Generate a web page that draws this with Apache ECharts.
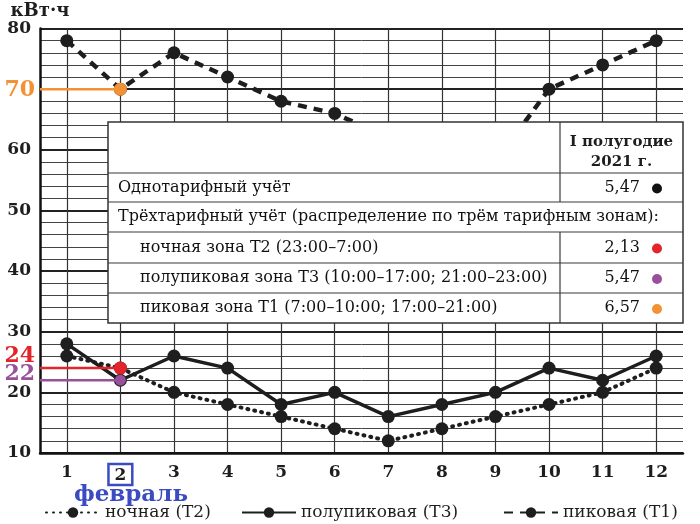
<!DOCTYPE html>
<html>
<head>
<meta charset="utf-8">
<script src="https://cdn.jsdelivr.net/npm/echarts@6/dist/echarts.min.js"></script>
<style>
html,body{margin:0;padding:0;background:#fff}
#chart{width:700px;height:524px}
</style>
</head>
<body>
<div id="chart"></div>
<script>
var months = [1,2,3,4,5,6,7,8,9,10,11,12];
var nightT2 = [26,24,20,18,16,14,12,14,16,18,20,24];
var halfPeakT3 = [28,22,26,24,18,20,16,18,20,24,22,26];
var peakT1 = [78,70,76,72,68,66,62,60,58,70,74,78];
var seriesNames = ['ночная (Т2)', 'полупиковая (Т3)', 'пиковая (Т1)'];
var unitName = 'кВт·ч';
var febLabel = 'февраль';
// значения за февраль, выделенные цветом
var febValues = [70, 24, 22];
var febColors = ['#f39234', '#e3242b', '#98509c'];
var febDotSize = [13, 13, 11];
var febLabelShift = [1, -12, -6];
// таблица тарифов
var tableHead = ['I полугодие', '2021 г.'];
var tableRows = ['Однотарифный учёт', 'Трёхтарифный учёт (распределение по трём тарифным зонам):', 'ночная зона Т2 (23:00–7:00)', 'полупиковая зона Т3 (10:00–17:00; 21:00–23:00)', 'пиковая зона Т1 (7:00–10:00; 17:00–21:00)'];
var tableValues = ['5,47', '', '2,13', '5,47', '6,57'];
var tableDots = ['#111', '', '#e3242b', '#98509c', '#f39234'];

var serif = 'DejaVu Serif';
var ink = '#1e1e1e';
var blue = '#3b4cc0';
var xMin = 0.5, xMax = 12.5;

var chart = echarts.init(document.getElementById('chart'));

function toPairs(arr) {
	return arr.map(function (v, i) { return [months[i], v]; });
}

// таблица поверх графика
var tL = 108, tR = 683, tCol = 560;
var rowY = [122, 173, 202, 232, 263, 293, 323];
var table = [];
table.push({type: 'rect', z: 100, shape: {x: tL, y: rowY[0], width: tR - tL, height: rowY[6] - rowY[0]},
	style: {fill: '#fff', stroke: '#333', lineWidth: 1.5}});
for (var r = 1; r < 6; r++) {
	table.push({type: 'line', z: 101, shape: {x1: tL, y1: rowY[r], x2: tR, y2: rowY[r]}, style: {stroke: '#3a3a3a', lineWidth: 1.2}});
}
table.push({type: 'line', z: 101, shape: {x1: tCol, y1: rowY[0], x2: tCol, y2: rowY[2]}, style: {stroke: '#3a3a3a', lineWidth: 1.2}});
table.push({type: 'line', z: 101, shape: {x1: tCol, y1: rowY[3], x2: tCol, y2: rowY[6]}, style: {stroke: '#3a3a3a', lineWidth: 1.2}});
table.push({type: 'text', z: 102, x: (tCol + tR) / 2, y: 142,
	style: {text: tableHead[0], font: 'bold 15px "' + serif + '"', fill: ink, align: 'center', verticalAlign: 'middle'}});
table.push({type: 'text', z: 102, x: (tCol + tR) / 2, y: 162,
	style: {text: tableHead[1], font: 'bold 15px "' + serif + '"', fill: ink, align: 'center', verticalAlign: 'middle'}});
for (var k = 0; k < tableRows.length; k++) {
	var cy = (rowY[k + 1] + rowY[k + 2]) / 2;
	table.push({type: 'text', z: 102, x: k >= 2 ? 140 : 118, y: cy,
		style: {text: tableRows[k], font: '16px "' + serif + '"', fill: '#111', verticalAlign: 'middle'}});
	if (tableValues[k]) {
		table.push({type: 'text', z: 102, x: 640, y: cy,
			style: {text: tableValues[k], font: '16px "' + serif + '"', fill: '#111', align: 'right', verticalAlign: 'middle'}});
		table.push({type: 'circle', z: 102, shape: {cx: 657, cy: cy + 1, r: 5}, style: {fill: tableDots[k]}});
	}
}
// подпись месяца под осью
table.push({type: 'text', z: 102, x: 131, y: 495,
	style: {text: febLabel, font: 'bold 23px "' + serif + '"', fill: blue, align: 'center', verticalAlign: 'middle'}});

var lineStyles = [
	{color: ink, width: 4, type: [1, 6], cap: 'round'},
	{color: ink, width: 3.5, type: 'solid'},
	{color: ink, width: 4.5, type: [9, 7]}
];
var seriesData = [nightT2, halfPeakT3, peakT1];

var series = seriesData.map(function (d, i) {
	return {
		name: seriesNames[i],
		type: 'line',
		data: toPairs(d),
		symbol: 'circle',
		symbolSize: 13,
		itemStyle: {color: ink},
		lineStyle: lineStyles[i],
		z: 3
	};
});

febValues.forEach(function (v, i) {
	series.push({
		type: 'line',
		silent: true,
		z: 5,
		data: [
			{value: [xMin, v], symbolSize: 0, label: {
				show: true, position: 'left', distance: 5, offset: [0, febLabelShift[i]],
				formatter: String(v), color: febColors[i], fontSize: 22, fontWeight: 'bold', fontFamily: serif
			}},
			{value: [months[1], v], symbolSize: febDotSize[i]}
		],
		symbol: 'circle',
		itemStyle: {color: febColors[i]},
		lineStyle: {color: febColors[i], width: 2.5}
	});
});

var legendLeft = [40, 236, 498];
var legends = seriesNames.map(function (n, i) {
	return {
		data: [n], left: legendLeft[i], top: 499,
		itemWidth: 54, itemHeight: 13,
		textStyle: {fontFamily: serif, fontSize: 17, color: ink}
	};
});

chart.setOption({
	animation: false,
	backgroundColor: '#fff',
	grid: {left: 40, right: 17, top: 28.5, bottom: 71},
	legend: legends,
	xAxis: {
		type: 'value', min: xMin, max: xMax,
		axisLine: {show: true, onZero: false, lineStyle: {color: '#111', width: 2.5}},
		axisTick: {show: false, customValues: months},
		axisLabel: {
			customValues: months, margin: 11,
			fontFamily: serif, fontSize: 17, fontWeight: 'bold', color: ink,
			formatter: function (v) { return v === months[1] ? '{box|' + v + '}' : v; },
			rich: {
				box: {fontFamily: serif, fontSize: 17, fontWeight: 'bold', color: ink, borderColor: blue, borderWidth: 2.5, padding: [3, 6, 1, 6]}
			}
		},
		splitLine: {show: true, lineStyle: {color: '#333', width: 1.2}}
	},
	yAxis: {
		type: 'value', min: 10, max: 80, interval: 10,
		name: unitName, nameLocation: 'end', nameGap: 8,
		nameTextStyle: {fontFamily: serif, fontSize: 18, fontWeight: 'bold', color: ink, align: 'center'},
		axisLine: {show: true, lineStyle: {color: '#111', width: 2.5}},
		axisTick: {show: false},
		axisLabel: {
			margin: 9, fontFamily: serif, fontSize: 17, fontWeight: 'bold', color: ink,
			formatter: function (v) { return v === febValues[0] ? '' : v; }
		},
		splitLine: {lineStyle: {color: '#222', width: 1.8}},
		minorTick: {show: false, splitNumber: 5},
		minorSplitLine: {show: true, lineStyle: {color: '#444', width: 1}}
	},
	graphic: table,
	series: series
});
</script>
</body>
</html>
